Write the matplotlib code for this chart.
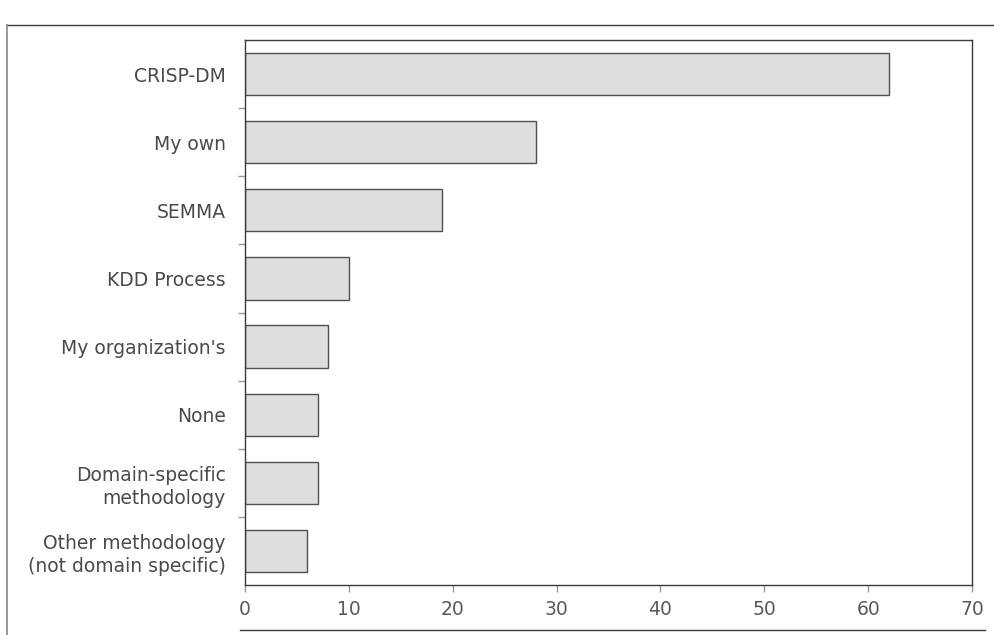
import matplotlib
matplotlib.use("Agg")
import matplotlib.pyplot as plt
from matplotlib.lines import Line2D
import numpy as np

categories = [
    "CRISP-DM",
    "My own",
    "SEMMA",
    "KDD Process",
    "My organization's",
    "None",
    "Domain-specific\nmethodology",
    "Other methodology\n(not domain specific)",
]
values = [62, 28, 19, 10, 8, 7, 7, 6]
xticks = [0, 10, 20, 30, 40, 50, 60, 70]

fig = plt.figure(figsize=(9.94, 6.35), dpi=100)
ax = fig.add_axes([245 / 994, 1 - 585 / 635, (972 - 245) / 994, (585 - 40) / 635])

y = np.arange(len(categories))
ax.barh(y, values, height=0.62, color="#dedede", edgecolor="#505050", linewidth=1.0)

ax.set_xlim(0, 70)
ax.set_ylim(len(categories) - 0.5, -0.5)
ax.set_xticks(xticks)
ax.set_xticklabels([str(v) for v in xticks], fontsize=13.5, color="#5a5a5a")
ax.set_yticks(y)
ax.set_yticklabels(categories, fontsize=13.5, color="#4a4a4a", linespacing=1.3)
ax.tick_params(axis="y", length=0, pad=14)
ax.set_yticks(np.arange(len(categories) - 1) + 0.5, minor=True)
ax.tick_params(axis="y", which="minor", length=5, color="#999999", width=1)
ax.tick_params(axis="x", length=5, color="#999999", width=1, pad=6)

for s in ax.spines.values():
    s.set_color("#3a3a3a")
    s.set_linewidth(1.0)

# outer scanned-page frame lines
fig.add_artist(Line2D([7 / 994, 1.0], [1 - 25 / 635, 1 - 25 / 635], color="#3a3a3a", lw=1.0))
fig.add_artist(Line2D([7 / 994, 7 / 994], [0.0, 1 - 25 / 635], color="#888888", lw=1.2))
fig.add_artist(Line2D([240 / 994, 985 / 994], [1 - 630 / 635, 1 - 630 / 635], color="#3a3a3a", lw=1.0))

fig.savefig("out.png", dpi=100)
